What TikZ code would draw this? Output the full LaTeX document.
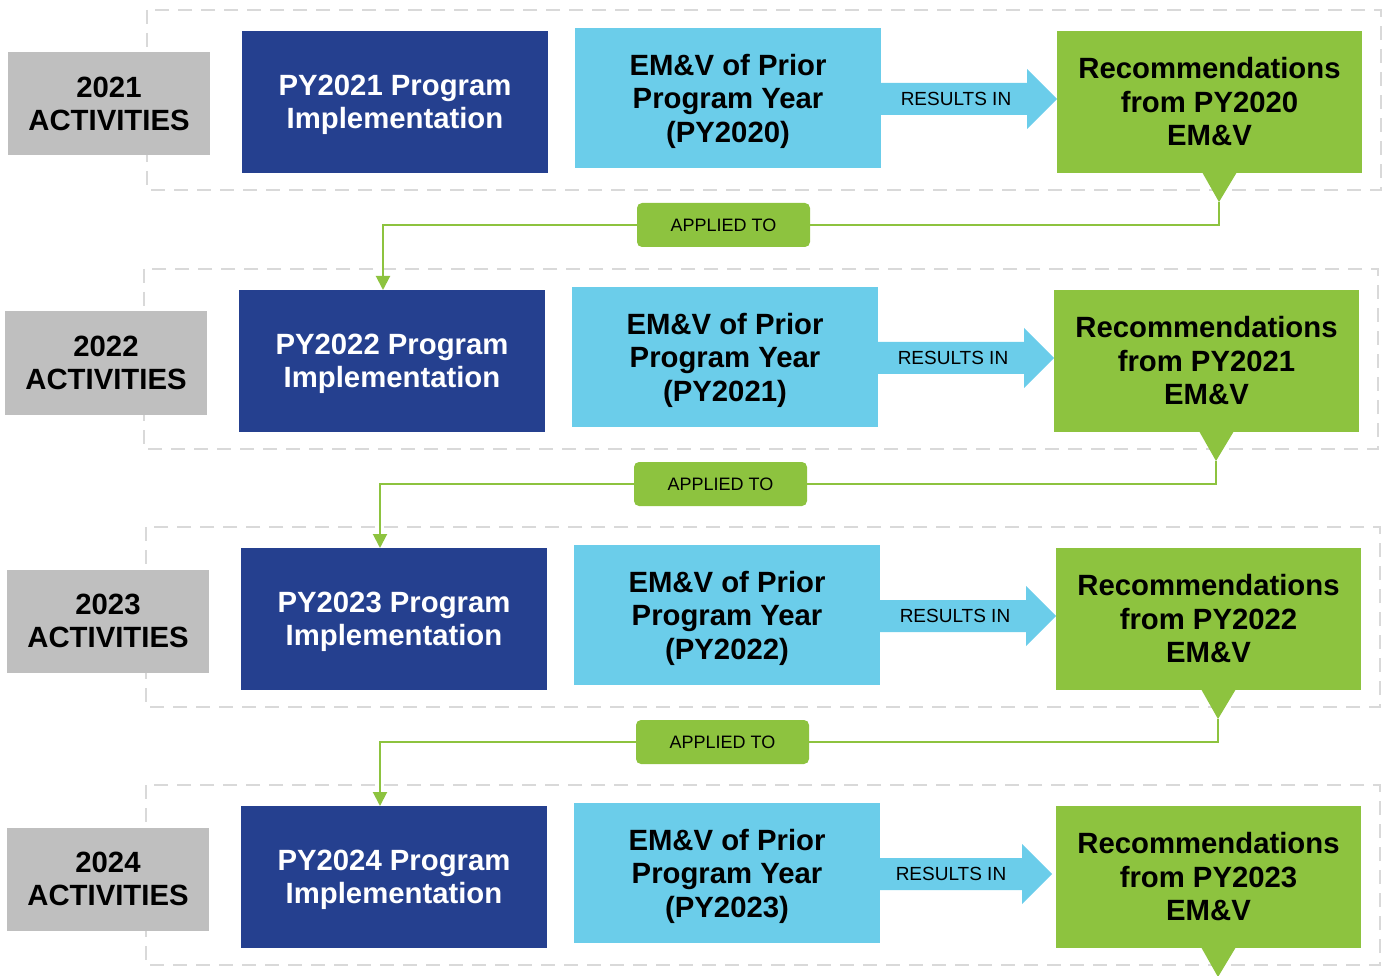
\documentclass[tikz,border=0pt]{standalone}
\usepackage{fontspec}
\setmainfont{Liberation Sans}
\usetikzlibrary{arrows.meta,calc}
\definecolor{dblue}{RGB}{37,64,143}
\definecolor{lblue}{RGB}{107,205,234}
\definecolor{lgreen}{RGB}{141,195,63}
\definecolor{lgray}{RGB}{191,191,191}
\definecolor{dashgray}{RGB}{217,217,217}
\tikzset{
 box/.style={inner sep=0pt, align=center, font=\bfseries\fontsize{29.3}{33.5}\selectfont},
 graybox/.style={box, fill=lgray, text=black, minimum width=202pt, minimum height=103pt},
 progbox/.style={box, fill=dblue, text=white, minimum width=306pt, minimum height=142pt, text depth=-8pt},
 emvbox/.style={box, fill=lblue, text=black, minimum width=306pt, minimum height=140pt, text depth=-4pt},
 recbox/.style={box, fill=lgreen, text=black, minimum width=305pt, minimum height=142pt},
 dashbox/.style={draw=dashgray, line width=2.5pt, dash pattern=on 14pt off 9pt},
 reslabel/.style={font=\fontsize{19}{22}\selectfont, inner sep=0pt},
 applabel/.style={fill=lgreen, rounded corners=5pt, minimum width=173pt, minimum height=44pt, font=\fontsize{18}{21}\selectfont, inner sep=0pt},
 gline/.style={draw=lgreen, line width=2pt},
}
\begin{document}
\begin{tikzpicture}[x=1pt,y=-1pt]
\useasboundingbox (0,0) rectangle (1382,976);
\foreach \i/\dx/\dy/\ax/\adx in {1/0/0/395/0, 2/-3/259/386/0, 3/-1/517/381/0, 4/-1/775/381/-4} {
 \pgfmathtruncatemacro{\yr}{2020+\i}
 \pgfmathtruncatemacro{\pr}{2019+\i}
 \begin{scope}[shift={(\dx,\dy)}]
  \draw[dashbox] (147,10) rectangle (1381,190);
  \node[graybox] (g\i) at (109,104) {\yr\\ACTIVITIES};
  \node[progbox] (p\i) at (395,102) {PY\yr\ Program\\Implementation};
  \node[emvbox] (e\i) at (728,98) {EM\&V of Prior\\Program Year\\(PY\pr)};
  \begin{scope}[xshift=\adx]
   \fill[lblue] (880,83) -- (1027,83) -- (1027,69) -- (1057,99) -- (1027,129) -- (1027,115) -- (880,115) -- cycle;
   \node[reslabel] (res\i) at (956,99) {RESULTS IN};
  \end{scope}
  \node[recbox] (r\i) at (1209.5,102) {Recommendations\\from PY\pr\\EM\&V};
  \fill[lgreen] (1202,172) -- (1237,172) -- (1219,202) -- cycle;
  \coordinate (t\i) at (1219,202);
  \coordinate (ac\i) at (723.5,225);
  \coordinate (in\i) at (\ax,31);
 \end{scope}
}
\foreach \i/\j in {1/2,2/3,3/4} {
  \node[applabel] (a\i) at (ac\i) {APPLIED TO};
  \draw[gline] (t\i) |- (a\i.east);
  \draw[gline,-{Triangle[length=14pt,width=14pt]}] (a\i.west) -| (in\j);
}
\end{tikzpicture}
\end{document}
